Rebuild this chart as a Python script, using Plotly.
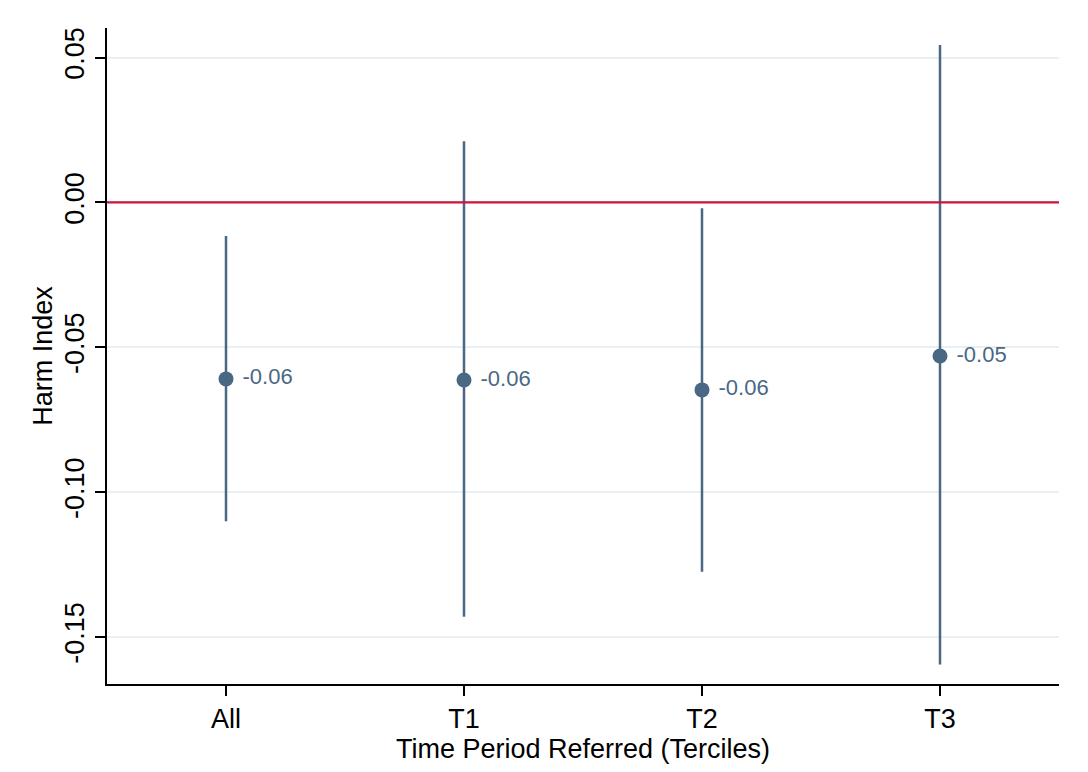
import plotly.graph_objects as go

categories = ["All", "T1", "T2", "T3"]
estimates = [-0.0609, -0.0613, -0.0647, -0.0530]
ci_upper = [-0.0116, 0.0211, -0.0020, 0.0543]
ci_lower = [-0.1100, -0.1430, -0.1275, -0.1595]
point_labels = ["-0.06", "-0.06", "-0.06", "-0.05"]
y_tickvals = [0.05, 0.0, -0.05, -0.10, -0.15]
y_ticktext = ["0.05", "0.00", "-0.05", "-0.10", "-0.15"]

xpos = list(range(1, len(categories) + 1))
col = "#4a6883"
font_family = "Liberation Sans, Arial, Helvetica, sans-serif"

fig = go.Figure()
fig.add_trace(go.Scatter(
    x=xpos, y=estimates,
    mode="markers+text",
    text=[" " + t for t in point_labels],
    textposition="middle right",
    textfont=dict(size=22, color=col, family=font_family),
    marker=dict(size=15, color=col),
    error_y=dict(
        type="data", symmetric=False,
        array=[u - e for u, e in zip(ci_upper, estimates)],
        arrayminus=[e - l for e, l in zip(estimates, ci_lower)],
        width=0, thickness=2.5, color=col,
    ),
    cliponaxis=False,
    showlegend=False,
))

fig.add_shape(type="line", xref="paper", x0=0, x1=1, yref="y", y0=0, y1=0,
              line=dict(color="#c8163f", width=2.2), layer="above")

fig.update_layout(
    width=1080, height=764,
    margin=dict(l=99, r=29, t=20, b=88),
    paper_bgcolor="white", plot_bgcolor="white",
    font=dict(family=font_family, color="black", size=27),
    xaxis=dict(
        range=[0.5, 4.5],
        tickvals=xpos, ticktext=categories,
        showgrid=False, zeroline=False,
        showline=True, linecolor="black", linewidth=1.5,
        ticks="outside", ticklen=10, tickwidth=1.5, tickcolor="black",
        tickfont=dict(size=27),
        title=dict(text="Time Period Referred (Terciles)", font=dict(size=27), standoff=0),
    ),
    yaxis=dict(
        range=[-0.1662, 0.0602],
        tickvals=y_tickvals, ticktext=y_ticktext,
        tickangle=-90,
        showgrid=True, gridcolor="#e9eff3", gridwidth=2,
        zeroline=False,
        showline=True, linecolor="black", linewidth=1.5,
        ticks="outside", ticklen=10, tickwidth=1.5, tickcolor="black",
        tickfont=dict(size=27),
        title=dict(text="Harm Index", font=dict(size=27), standoff=0),
    ),
)

fig.write_html("out.html")
